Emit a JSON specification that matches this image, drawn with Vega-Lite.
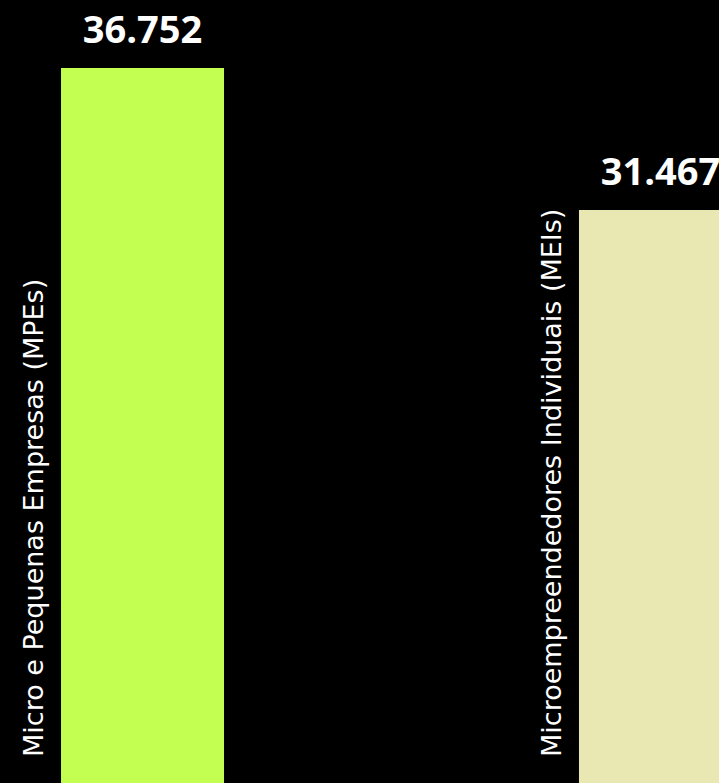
{
  "$schema": "https://vega.github.io/schema/vega-lite/v6.json",
  "width": 719,
  "height": 783,
  "autosize": {"type": "none"},
  "padding": 0,
  "background": "#000000",
  "config": {"view": {"stroke": null}},
  "data": {"values": [
    {"categoria": "Micro e Pequenas Empresas (MPEs)", "valor": 36752, "rotulo": "36.752"},
    {"categoria": "Microempreendedores Individuais (MEIs)", "valor": 31467, "rotulo": "31.467"}
  ]},
  "encoding": {
    "x": {"field": "categoria", "type": "nominal", "sort": null, "axis": null,
      "scale": {"range": [0, 803], "paddingInner": 0.6853, "paddingOuter": 0.1178}}
  },
  "layer": [
    {
      "mark": {"type": "bar", "clip": true},
      "encoding": {
        "y": {"field": "valor", "type": "quantitative", "axis": null,
          "scale": {"domain": [10141, 39283], "zero": false, "nice": false}},
        "color": {"field": "categoria", "type": "nominal", "legend": null,
          "scale": {"domain": ["Micro e Pequenas Empresas (MPEs)", "Microempreendedores Individuais (MEIs)"], "range": ["#C2FF50", "#E9E7B2"]}}
      }
    },
    {
      "mark": {"type": "text", "color": "#FFFFFF", "font": "Open Sans", "fontWeight": "bold", "fontSize": 38, "baseline": "alphabetic", "align": "center", "dy": -25},
      "encoding": {
        "y": {"field": "valor", "type": "quantitative"},
        "text": {"field": "rotulo"}
      }
    },
    {
      "mark": {"type": "text", "color": "#FFFFFF", "font": "DejaVu Sans", "fontSize": 27, "angle": 270, "align": "left", "baseline": "alphabetic", "dx": 26, "dy": -18, "y": {"expr": "height"}},
      "encoding": {
        "x": {"field": "categoria", "type": "nominal", "sort": null, "bandPosition": 0},
        "text": {"field": "categoria"}
      }
    }
  ]
}
